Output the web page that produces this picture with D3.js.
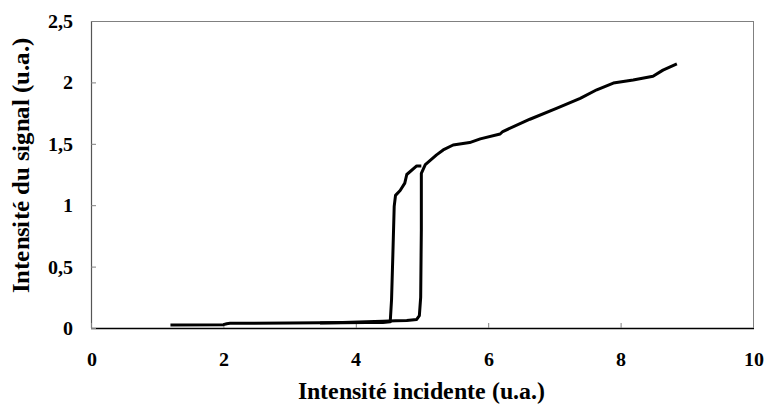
<!DOCTYPE html>
<html><head><meta charset="utf-8">
<script src="https://cdn.jsdelivr.net/npm/d3@7"></script>
<style>
@font-face { font-family: "RefSerifB"; src: local("Liberation Serif Bold"), local("LiberationSerif-Bold"); font-weight: 700; }
@font-face { font-family: "RefSerifB"; src: local("Liberation Serif Bold"), local("LiberationSerif-Bold"); font-weight: 400; }
</style>
</head>
<body style="margin:0;background:#fff"><svg id="c" width="764" height="414"></svg>
<script>
// Montée (increasing incident intensity)
const upX = [1.2, 2.0, 2.05, 2.1, 3.0, 3.46, 3.8, 4.16, 4.41, 4.6, 4.77, 4.92, 4.96, 4.98, 4.99, 4.99, 5.05, 5.22, 5.32, 5.47, 5.72, 5.88, 6.18, 6.22, 6.63, 7.04, 7.39, 7.64, 7.89, 8.19, 8.49, 8.64, 8.85];
const upY = [0.025, 0.027, 0.035, 0.038, 0.04, 0.043, 0.045, 0.05, 0.055, 0.06, 0.062, 0.07, 0.10, 0.25, 0.8, 1.26, 1.33, 1.41, 1.45, 1.49, 1.51, 1.54, 1.58, 1.60, 1.70, 1.79, 1.87, 1.94, 1.995, 2.02, 2.05, 2.10, 2.15];
// Descente (decreasing incident intensity)
const downX = [4.99, 4.92, 4.77, 4.74, 4.67, 4.60, 4.58, 4.56, 4.54, 4.52, 4.41, 4.16, 3.8, 3.46];
const downY = [1.32, 1.32, 1.25, 1.18, 1.12, 1.08, 0.99, 0.6, 0.23, 0.05, 0.045, 0.045, 0.042, 0.04];
const xTicks = [0, 2, 4, 6, 8, 10];
const yTicks = [0, 0.5, 1, 1.5, 2, 2.5];
const yTickLabels = ["0", "0,5", "1", "1,5", "2", "2,5"];
const xTitle = "Intensité incidente (u.a.)";
const yTitle = "Intensité du signal (u.a.)";

const FONT = "RefSerifB, Liberation Serif";
const svg = d3.select("#c");
const L = 91, R = 753, T = 21, B = 328;
const x = d3.scaleLinear().domain([0, 10]).range([L, R]);
const y = d3.scaleLinear().domain([0, 2.5]).range([B, T]);

// frame
svg.append("rect").attr("x", L + 0.5).attr("y", T + 0.5).attr("width", R - L).attr("height", B - T)
  .attr("fill", "none").attr("stroke", "#808080").attr("stroke-width", 1);
svg.append("line").attr("x1", L).attr("x2", R + 1).attr("y1", B + 0.5).attr("y2", B + 0.5)
  .attr("stroke", "#000").attr("stroke-width", 1.5);
svg.append("line").attr("x1", L + 0.5).attr("x2", L + 0.5).attr("y1", T).attr("y2", B)
  .attr("stroke", "#555").attr("stroke-width", 1.2);

// x axis
const xAxis = d3.axisBottom(x).tickValues(xTicks).tickSize(-5).tickPadding(24).tickFormat(d3.format("d"));
const gx = svg.append("g").attr("transform", `translate(0,${B})`).call(xAxis)
  .attr("font-family", FONT).attr("font-size", 20).attr("font-weight", "bold");
gx.select(".domain").remove();
gx.selectAll(".tick line").attr("stroke", "#808080");
gx.selectAll(".tick text").attr("fill", "#000");

// y axis
const yAxis = d3.axisLeft(y).tickValues(yTicks).tickSize(-5).tickPadding(18).tickFormat((d, i) => yTickLabels[i]);
const gy = svg.append("g").attr("transform", `translate(${L},0)`).call(yAxis)
  .attr("font-family", FONT).attr("font-size", 20).attr("font-weight", "bold");
gy.select(".domain").remove();
gy.selectAll(".tick line").attr("stroke", "#808080");
gy.selectAll(".tick text").attr("fill", "#000");

// titles
svg.append("text").attr("x", 421.5).attr("y", 399).attr("text-anchor", "middle")
  .attr("font-family", FONT).attr("font-weight", "bold").attr("font-size", 24)
  .attr("textLength", 247).attr("lengthAdjust", "spacingAndGlyphs").text(xTitle);
svg.append("text").attr("transform", `translate(29,165.5) rotate(-90)`).attr("text-anchor", "middle")
  .attr("font-family", FONT).attr("font-weight", "bold").attr("font-size", 24)
  .attr("textLength", 255).attr("lengthAdjust", "spacingAndGlyphs").text(yTitle);

// curves
const line = d3.line().x(d => x(d[0])).y(d => y(d[1]));
svg.append("path").datum(d3.zip(upX, upY)).attr("d", line)
  .attr("fill", "none").attr("stroke", "#000").attr("stroke-width", 3).attr("stroke-linejoin", "round");
svg.append("path").datum(d3.zip(downX, downY)).attr("d", line)
  .attr("fill", "none").attr("stroke", "#000").attr("stroke-width", 3).attr("stroke-linejoin", "round");
</script></body></html>
